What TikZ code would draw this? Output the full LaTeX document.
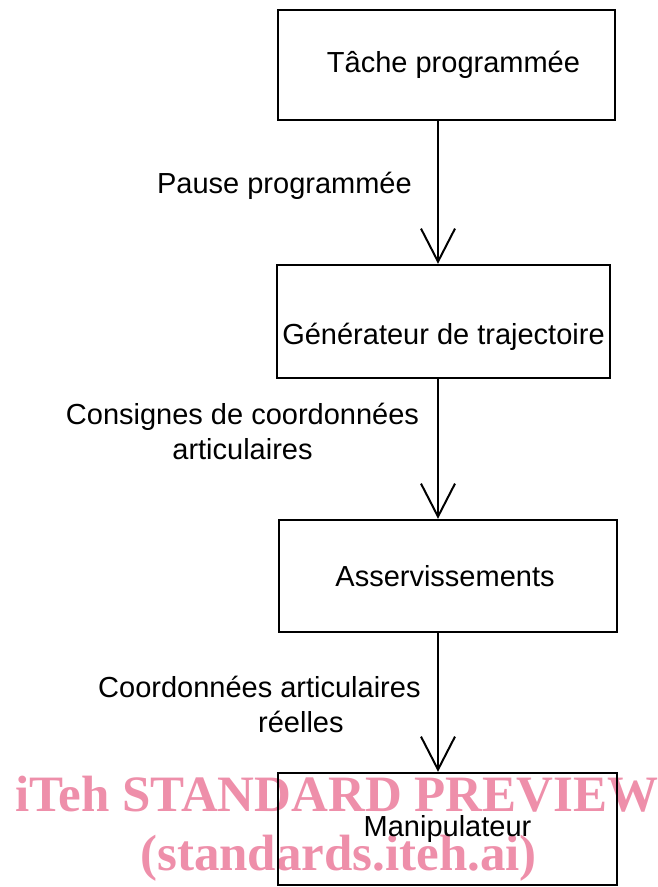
\documentclass[tikz,border=0pt]{standalone}
\usepackage{fontspec}
\setmainfont{Liberation Sans}
\newfontfamily\wmfont{Liberation Serif}
\usetikzlibrary{arrows.meta,positioning}
\definecolor{wmpink}{RGB}{238,143,170}
\tikzset{flow/.style={line width=2pt,-{Straight Barb[length=33pt,width=34pt,line width=2pt]}},
  block/.style={draw, line width=2.4pt, inner sep=0pt, font=\fontsize{29}{35}\selectfont},
  note/.style={inner sep=0pt, font=\fontsize{29}{35}\selectfont},
  stamp/.style={wmpink, inner sep=0pt, anchor=base west, font=\wmfont\bfseries\fontsize{51}{51}\selectfont}}

\begin{document}
\begin{tikzpicture}[x=1pt,y=-1pt]
  \useasboundingbox (0,0) rectangle (658,887);
  % watermark
  \node[stamp] (wm1) at (15,811) {iTeh STANDARD PREVIEW};
  \node[stamp] (wm2) at (140,870) {(standards.iteh.ai)};
  % blocks
  \node[block, minimum width=337pt, minimum height=110pt] (tache) at (446.5,65) {\hspace*{14pt}Tâche programmée};
  \node[block, minimum width=333pt, minimum height=113pt] (gen) at (443.5,321.5) {\raisebox{-15pt}[\height][\depth]{Générateur de trajectoire}};
  \node[block, minimum width=338pt, minimum height=112pt] (asserv) at (448,576) {Asservissements\hspace*{6pt}};
  \node[block, minimum width=339pt, minimum height=112pt] (manip) at (447.5,829) {Manipulateur};
  % flows
  \coordinate (ax) at (438,0);
  \draw[flow] (tache.south -| ax) -- (gen.north -| ax);
  \draw[flow] (gen.south -| ax) -- (asserv.north -| ax);
  \draw[flow] (asserv.south -| ax) -- (manip.north -| ax);
  % flow labels
  \node[note, anchor=base east] (pause) at (412,193) {Pause programmée};
  \node[note, align=center] (consignes) at (242.5,431.5) {Consignes de coordonnées\\articulaires};
  \node[note, align=left, anchor=west] (reelles) at (98,704) {Coordonnées articulaires\\\hspace*{160pt}réelles};
\end{tikzpicture}
\end{document}
